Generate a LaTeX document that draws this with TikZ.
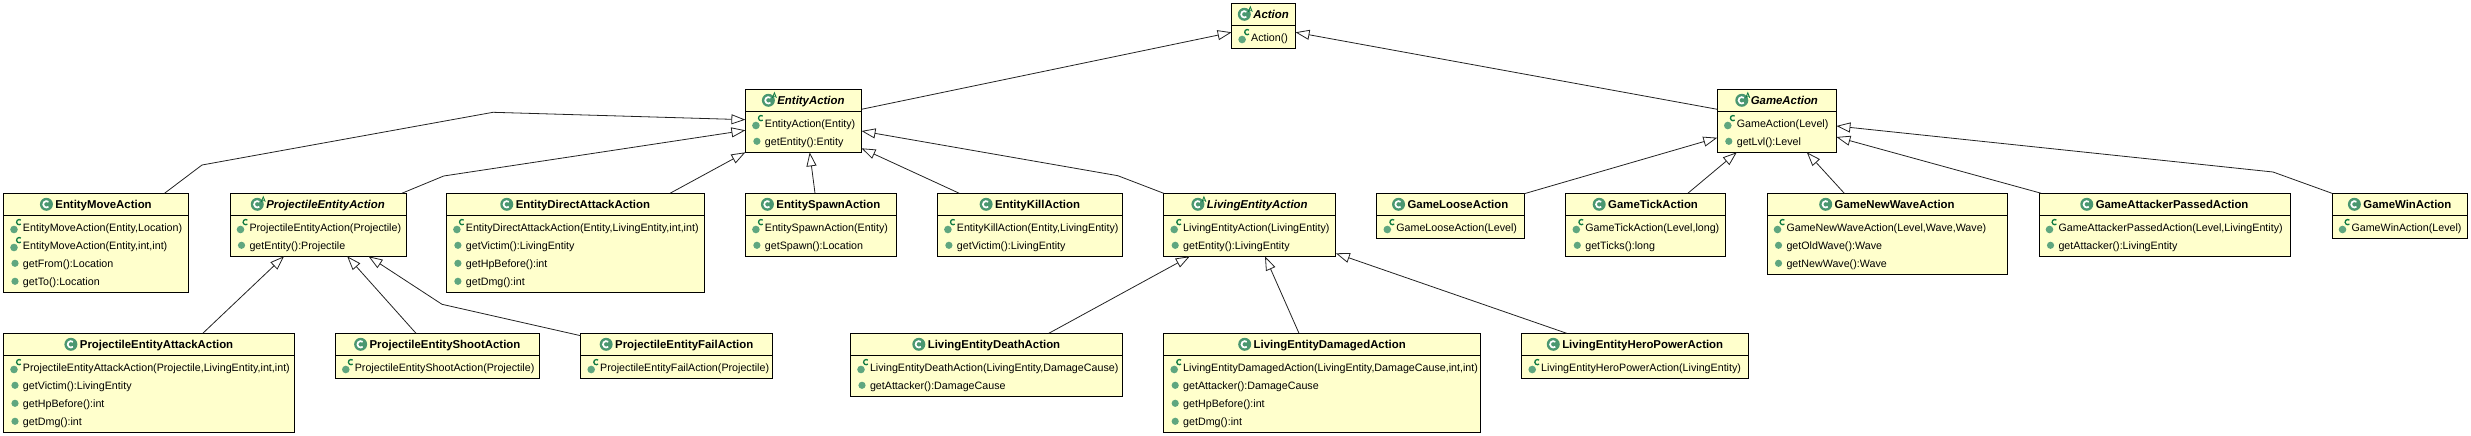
\documentclass[tikz,border=0pt]{standalone}
\usepackage{fontspec}
\setmainfont{Liberation Sans}
\usetikzlibrary{arrows.meta}
\definecolor{boxfill}{HTML}{FFFFCC}
\definecolor{clsgreen}{HTML}{4A9770}
\definecolor{dotgreen}{HTML}{5FA67F}
\definecolor{supgreen}{HTML}{0F7A42}
\definecolor{linkcol}{HTML}{222222}
\tikzset{
  classbox/.style={draw=black,fill=boxfill,line width=1pt,inner sep=0pt,outer sep=0pt,rectangle},
  divider/.style={draw=black,line width=1pt},
  titlelabel/.style={inner sep=0pt,outer sep=0pt,anchor=base,font=\fontsize{11.4}{13}\selectfont\bfseries,text=black},
  abstitle/.style={titlelabel,font=\fontsize{11.4}{13}\selectfont\bfseries\itshape},
  rowlabel/.style={inner sep=0pt,outer sep=0pt,anchor=base west,font=\fontsize{10.7}{13}\selectfont,text=black},
  gen/.style={draw=linkcol,line width=0.8pt,-{Triangle[length=14pt,width=10pt,fill=white]}}
}
% class box: name, x1, y1, x2, y2, title, title style
\newcommand\umlclass[7]{%
  \pgfmathsetmacro\bw{#4-#2}\pgfmathsetmacro\bh{#5-#3}%
  \pgfmathsetmacro\bcx{(#2+#4)/2}\pgfmathsetmacro\bcy{(#3+#5)/2}%
  \node[classbox,minimum width=\bw pt,minimum height=\bh pt] (#1) at (\bcx,\bcy) {};
  \draw[divider] ([yshift=-22pt]#1.north west) -- ([yshift=-22pt]#1.north east);
  \node[#7] (#1-t) at ([xshift=7.5pt,yshift=-15pt]#1.north) {#6};
  \begin{scope}[shift={(#1-t.base west)}]
    \fill[clsgreen] (-9,-4) circle[radius=6.5pt];
    \draw[white,line width=1.7pt] ([shift={(50:3.2pt)}]-9,-4) arc[start angle=50,end angle=310,radius=3.2pt];
  \end{scope}
}
\newcommand\absmark[1]{%
  \begin{scope}[shift={(#1-t.base west)}]
    \draw[supgreen,line width=0.8pt] (-5,-6.5) -- (-3,-11.5) -- (-1,-6.5) (-4.2,-8) -- (-1.8,-8);
  \end{scope}
}
\newcommand\ctor[3]{%
  \node[rowlabel] (#1-r#2) at ([xshift=19.5pt,yshift={-38pt-18pt*(#2-1)}]#1.north west) {#3};
  \begin{scope}[shift={(#1-r#2.base west)}]
    \fill[dotgreen] (-9,-1.8) circle[radius=3.8pt];
    \draw[supgreen,line width=1.3pt] ([shift={(50:2.6pt)}]-3.8,-9.2) arc[start angle=50,end angle=310,radius=2.6pt];
  \end{scope}
}
\newcommand\meth[3]{%
  \node[rowlabel] (#1-r#2) at ([xshift=19.5pt,yshift={-38pt-18pt*(#2-1)}]#1.north west) {#3};
  \begin{scope}[shift={(#1-r#2.base west)}]
    \fill[dotgreen] (-8,-4) circle[radius=3.6pt];
  \end{scope}
}
\newcommand\bxp[3]{([xshift=#2pt,yshift=-#3pt]#1.north west)}
\begin{document}
\begin{tikzpicture}[x=1pt,y=-1pt]
\useasboundingbox (0,0) rectangle (2471,436);
\umlclass{act}{1231.6}{3.3}{1295.5}{48.3}{Action}{abstitle}\absmark{act}
\ctor{act}{1}{Action()}
\umlclass{ea}{745.4}{89.3}{861.5}{152.3}{EntityAction}{abstitle}\absmark{ea}
\ctor{ea}{1}{EntityAction(Entity)}
\meth{ea}{2}{getEntity():Entity}
\umlclass{ga}{1717.3}{89.3}{1836.4}{152.3}{GameAction}{abstitle}\absmark{ga}
\ctor{ga}{1}{GameAction(Level)}
\meth{ga}{2}{getLvl():Level}
\umlclass{em}{3.5}{193.3}{188.6}{292.3}{EntityMoveAction}{titlelabel}
\ctor{em}{1}{EntityMoveAction(Entity,Location)}
\ctor{em}{2}{EntityMoveAction(Entity,int,int)}
\meth{em}{3}{getFrom():Location}
\meth{em}{4}{getTo():Location}
\umlclass{pa}{230}{193.3}{406}{256.3}{ProjectileEntityAction}{abstitle}\absmark{pa}
\ctor{pa}{1}{ProjectileEntityAction(Projectile)}
\meth{pa}{2}{getEntity():Projectile}
\umlclass{ed}{446.4}{193.3}{704.4}{292.3}{EntityDirectAttackAction}{titlelabel}
\ctor{ed}{1}{EntityDirectAttackAction(Entity,LivingEntity,int,int)}
\meth{ed}{2}{getVictim():LivingEntity}
\meth{ed}{3}{getHpBefore():int}
\meth{ed}{4}{getDmg():int}
\umlclass{es}{745.4}{193.3}{896.3}{256.3}{EntitySpawnAction}{titlelabel}
\ctor{es}{1}{EntitySpawnAction(Entity)}
\meth{es}{2}{getSpawn():Location}
\umlclass{ek}{937.4}{193.3}{1122.7}{256.3}{EntityKillAction}{titlelabel}
\ctor{ek}{1}{EntityKillAction(Entity,LivingEntity)}
\meth{ek}{2}{getVictim():LivingEntity}
\umlclass{la}{1163.7}{193.3}{1335.8}{256.3}{LivingEntityAction}{abstitle}\absmark{la}
\ctor{la}{1}{LivingEntityAction(LivingEntity)}
\meth{la}{2}{getEntity():LivingEntity}
\umlclass{gl}{1376.8}{193.3}{1524}{238.3}{GameLooseAction}{titlelabel}
\ctor{gl}{1}{GameLooseAction(Level)}
\umlclass{gt}{1565.8}{193.3}{1725.3}{256.3}{GameTickAction}{titlelabel}
\ctor{gt}{1}{GameTickAction(Level,long)}
\meth{gt}{2}{getTicks():long}
\umlclass{gn}{1767}{193.3}{2007.3}{274.3}{GameNewWaveAction}{titlelabel}
\ctor{gn}{1}{GameNewWaveAction(Level,Wave,Wave)}
\meth{gn}{2}{getOldWave():Wave}
\meth{gn}{3}{getNewWave():Wave}
\umlclass{gp}{2039}{193.3}{2290.2}{256.3}{GameAttackerPassedAction}{titlelabel}
\ctor{gp}{1}{GameAttackerPassedAction(Level,LivingEntity)}
\meth{gp}{2}{getAttacker():LivingEntity}
\umlclass{gw}{2332}{193.3}{2467.7}{238.3}{GameWinAction}{titlelabel}
\ctor{gw}{1}{GameWinAction(Level)}
\umlclass{pk}{3.5}{333.3}{294.6}{432.3}{ProjectileEntityAttackAction}{titlelabel}
\ctor{pk}{1}{ProjectileEntityAttackAction(Projectile,LivingEntity,int,int)}
\meth{pk}{2}{getVictim():LivingEntity}
\meth{pk}{3}{getHpBefore():int}
\meth{pk}{4}{getDmg():int}
\umlclass{ps}{335.3}{333.3}{539.7}{378.3}{ProjectileEntityShootAction}{titlelabel}
\ctor{ps}{1}{ProjectileEntityShootAction(Projectile)}
\umlclass{pf}{580.7}{333.3}{772.7}{378.3}{ProjectileEntityFailAction}{titlelabel}
\ctor{pf}{1}{ProjectileEntityFailAction(Projectile)}
\umlclass{ld}{850.5}{333.3}{1122.5}{396.3}{LivingEntityDeathAction}{titlelabel}
\ctor{ld}{1}{LivingEntityDeathAction(LivingEntity,DamageCause)}
\meth{ld}{2}{getAttacker():DamageCause}
\umlclass{lm}{1163.7}{333.3}{1480.7}{432.3}{LivingEntityDamagedAction}{titlelabel}
\ctor{lm}{1}{LivingEntityDamagedAction(LivingEntity,DamageCause,int,int)}
\meth{lm}{2}{getAttacker():DamageCause}
\meth{lm}{3}{getHpBefore():int}
\meth{lm}{4}{getDmg():int}
\umlclass{lh}{1521.7}{333.3}{1748.7}{378.3}{LivingEntityHeroPowerAction}{titlelabel}
\ctor{lh}{1}{LivingEntityHeroPowerAction(LivingEntity)}
% connectors
\draw[gen] \bxp{em}{161}{0} -- (202,165) -- (493,112.3) -- \bxp{ea}{0}{30.4};
\draw[gen] \bxp{pa}{171.8}{0} -- (443.7,176) -- \bxp{ea}{0}{41};
\draw[gen] \bxp{ed}{223.6}{0} -- \bxp{ea}{0}{63};
\draw[gen] \bxp{es}{69.6}{0} -- \bxp{ea}{64.3}{63};
\draw[gen] \bxp{ek}{21.9}{0} -- \bxp{ea}{116.1}{59};
\draw[gen] \bxp{la}{0}{0} -- (1117.8,175.7) -- \bxp{ea}{116.1}{41.7};
\draw[gen] \bxp{ea}{116.1}{20} -- \bxp{act}{0}{29};
\draw[gen] \bxp{ga}{0}{20} -- \bxp{act}{63.9}{29};
\draw[gen] \bxp{pk}{199.3}{0} -- \bxp{pa}{54}{63};
\draw[gen] \bxp{ps}{80.7}{0} -- \bxp{pa}{117.2}{63};
\draw[gen] \bxp{pf}{0}{2.4} -- (442,304.3) -- \bxp{pa}{138.5}{63};
\draw[gen] \bxp{ld}{198.3}{0} -- \bxp{la}{26.1}{63};
\draw[gen] \bxp{lm}{135.3}{0} -- \bxp{la}{101.3}{63};
\draw[gen] \bxp{lh}{45}{0} -- \bxp{la}{172.1}{60};
\draw[gen] \bxp{gl}{147.2}{0.5} -- \bxp{ga}{0}{48.4};
\draw[gen] \bxp{gt}{122}{0} -- \bxp{ga}{19.5}{63};
\draw[gen] \bxp{gn}{77.3}{0} -- \bxp{ga}{89.5}{63};
\draw[gen] \bxp{gp}{2.3}{0} -- \bxp{ga}{119.1}{47.7};
\draw[gen] \bxp{gw}{0}{0} -- (2273,172) -- \bxp{ga}{119.1}{36.7};
\end{tikzpicture}
\end{document}
